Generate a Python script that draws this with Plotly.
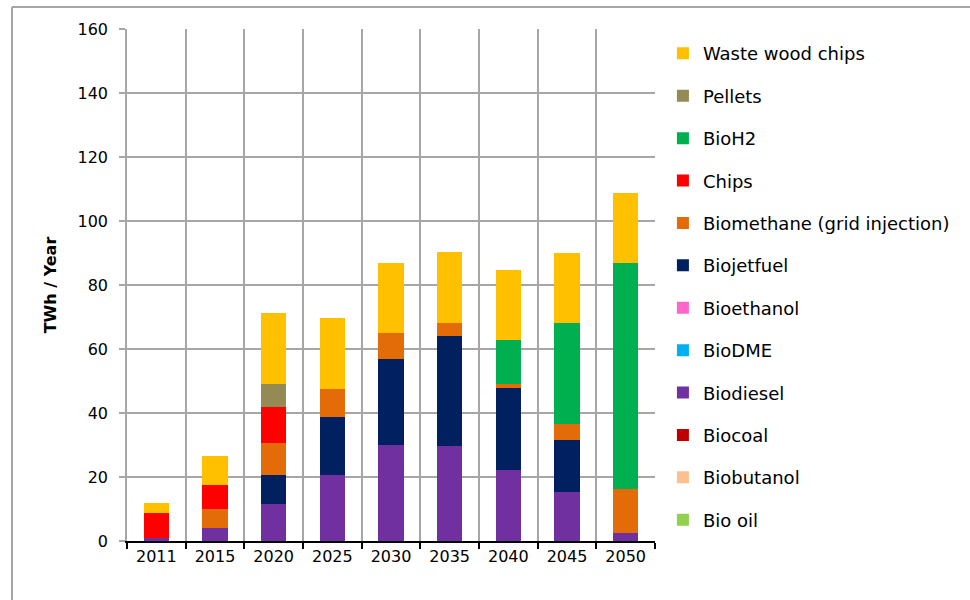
import plotly.graph_objects as go

years = ["2011", "2015", "2020", "2025", "2030", "2035", "2040", "2045", "2050"]

# stacking order bottom -> top
bio_oil      = [0, 0, 0, 0, 0, 0, 0, 0, 0]
biobutanol   = [0, 0, 0, 0, 0, 0, 0, 0, 0]
biocoal      = [0, 0, 0, 0, 0, 0, 0, 0, 0]
biodiesel    = [1.0, 4.2, 11.7, 20.5, 29.9, 29.8, 22.2, 15.3, 2.6]
biodme       = [0, 0, 0, 0, 0, 0, 0, 0, 0]
bioethanol   = [0, 0, 0, 0, 0, 0, 0, 0, 0]
biojetfuel   = [0, 0, 8.9, 18.3, 27.1, 34.4, 25.6, 16.3, 0]
biomethane   = [0, 5.9, 10.1, 8.7, 7.9, 3.9, 1.3, 5.0, 13.7]
chips        = [7.7, 7.5, 11.3, 0, 0, 0, 0, 0, 0]
bioh2        = [0, 0, 0, 0, 0, 0, 13.8, 31.5, 70.6]
pellets      = [0, 0, 7.1, 0, 0, 0, 0, 0, 0]
waste_wood   = [3.3, 9.1, 22.2, 22.2, 22.0, 22.1, 21.9, 22.0, 21.9]

series = [
    ("Bio oil", bio_oil, "#92D050"),
    ("Biobutanol", biobutanol, "#FAC090"),
    ("Biocoal", biocoal, "#C00000"),
    ("Biodiesel", biodiesel, "#7030A0"),
    ("BioDME", biodme, "#00B0F0"),
    ("Bioethanol", bioethanol, "#FF66CC"),
    ("Biojetfuel", biojetfuel, "#002060"),
    ("Biomethane (grid injection)", biomethane, "#E36C09"),
    ("Chips", chips, "#FF0000"),
    ("BioH2", bioh2, "#00B050"),
    ("Pellets", pellets, "#948A54"),
    ("Waste wood chips", waste_wood, "#FFC000"),
]

x_pos = list(range(len(years)))
boundaries = [i - 0.5 for i in range(len(years) + 1)]

fig = go.Figure()
n = len(series)
for i, (name, vals, color) in enumerate(series):
    fig.add_trace(go.Bar(
        x=x_pos, y=vals, name=name, legendgroup=name,
        legendrank=n - i,
        marker=dict(color=color, line=dict(width=0)),
        width=0.43,
    ))

FONT = "DejaVu Sans"
fig.update_layout(
    width=970, height=600,
    barmode="stack",
    paper_bgcolor="white", plot_bgcolor="white",
    margin=dict(l=127, r=315, t=29, b=59),
    font=dict(family=FONT, size=15, color="black"),
    showlegend=True,
    legend=dict(
        traceorder="grouped",
        x=1.015, xanchor="left", y=0.988, yanchor="top",
        font=dict(family=FONT, size=18, color="black"),
        tracegroupgap=16,
        itemsizing="constant",
        itemwidth=30,
        bgcolor="rgba(0,0,0,0)",
    ),
    xaxis=dict(
        range=[-0.5, len(years) - 0.5],
        tickmode="array", tickvals=x_pos, ticktext=years,
        ticks="", showgrid=False, zeroline=False,
        showline=True, linecolor="black", linewidth=2,
        tickfont=dict(family=FONT, size=16, color="black"),
        minor=dict(
            tickmode="array", tickvals=boundaries,
            ticks="outside", ticklen=6, tickwidth=2, tickcolor="black",
            showgrid=True, gridcolor="#A6A6A6", gridwidth=1.5,
        ),
    ),
    yaxis=dict(
        range=[0, 160], tickmode="linear", tick0=0, dtick=20,
        showgrid=True, gridcolor="#A6A6A6", gridwidth=1.5,
        zeroline=False,
        showline=True, linecolor="#A6A6A6", linewidth=1.5,
        ticks="outside", ticklen=6, tickcolor="#A6A6A6", tickwidth=1.5,
        ticklabelstandoff=8,
        tickfont=dict(family=FONT, size=16, color="black"),
        title=dict(text="<b>TWh / Year</b>", font=dict(family=FONT, size=16, color="black"), standoff=17),
    ),
    shapes=[
        dict(type="line", xref="paper", yref="paper",
             x0=(12 - 127) / 528, x1=(975 - 127) / 528,
             y0=(541 - 7) / 512, y1=(541 - 7) / 512,
             line=dict(color="#A6A6A6", width=2)),
        dict(type="line", xref="paper", yref="paper",
             x0=(12 - 127) / 528, x1=(12 - 127) / 528,
             y0=(541 - 7) / 512, y1=(541 - 605) / 512,
             line=dict(color="#A6A6A6", width=2)),
    ],
)

fig.write_html("out.html", config={"displayModeBar": False},
               post_script="document.body.style.margin='0';")
